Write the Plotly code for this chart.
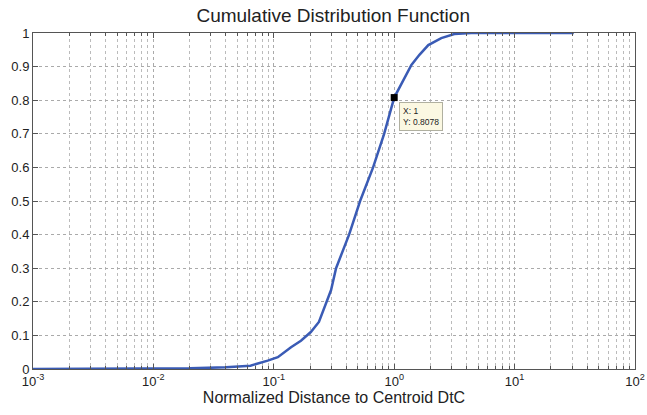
import plotly.graph_objects as go

dtc = [0.001, 0.01, 0.02, 0.04, 0.064, 0.089, 0.108, 0.139, 0.168, 0.203, 0.237,
       0.299, 0.329, 0.422, 0.521, 0.668, 0.825, 1.0, 1.14, 1.39, 1.62, 1.92,
       2.46, 3.16, 4.38, 31.0]
cdf = [0.0, 0.0, 0.002, 0.005, 0.01, 0.025, 0.035, 0.065, 0.084, 0.11, 0.14,
       0.235, 0.3, 0.4, 0.5, 0.6, 0.7, 0.8078, 0.846, 0.905, 0.935, 0.964,
       0.985, 0.997, 1.0, 1.0]
tip_x = 1
tip_y = 0.8078
x_tickvals = [0.001, 0.01, 0.1, 1, 10, 100]
x_ticktext = ["10<sup>-3</sup>", "10<sup>-2</sup>", "10<sup>-1</sup>",
              "10<sup>0</sup>", "10<sup>1</sup>", "10<sup>2</sup>"]

FONT = "Liberation Sans, Arial"

fig = go.Figure()
fig.add_trace(go.Scatter(x=dtc, y=cdf, mode="lines",
                         line=dict(color="#3a5bb5", width=2.5), hoverinfo="skip"))
fig.add_trace(go.Scatter(x=[tip_x], y=[tip_y], mode="markers",
                         marker=dict(symbol="square", size=7, color="black"),
                         hoverinfo="skip"))

fig.add_annotation(x=0, y=tip_y, xref="x", yref="y",
                   text=f"X: {tip_x}<br>Y: {tip_y}", showarrow=False,
                   xanchor="left", yanchor="top", xshift=5, yshift=-4,
                   align="left", bgcolor="#fbf8e2", bordercolor="#b0b0a0",
                   borderwidth=1, borderpad=3,
                   font=dict(size=8.5, color="#222", family=FONT))

axis_common = dict(showline=True, linecolor="#555", linewidth=1, mirror="ticks",
                   ticks="inside", ticklen=5, tickcolor="#555",
                   showgrid=True, gridcolor="#aaa", griddash="dot", gridwidth=1,
                   zeroline=False, automargin=False,
                   tickfont=dict(size=13, color="#222", family=FONT))

fig.update_xaxes(type="log", range=[-3, 2], tickmode="array",
                 tickvals=x_tickvals, ticktext=x_ticktext,
                 minor=dict(dtick="D1", ticks="inside", ticklen=3, tickcolor="#555",
                            showgrid=True, gridcolor="#bbb", griddash="dot"),
                 title=dict(text="Normalized Distance to Centroid DtC", standoff=2,
                            font=dict(size=16, color="#222", family=FONT)),
                 **axis_common)
fig.update_yaxes(range=[0, 1], dtick=0.1, tickformat="~g", **axis_common)

fig.update_layout(width=647, height=415, showlegend=False,
                  margin=dict(l=33, r=12, t=33, b=46),
                  plot_bgcolor="white", paper_bgcolor="white",
                  title=dict(text="Cumulative Distribution Function", x=0.515, xanchor="center",
                             y=1 - 15 / 415, yanchor="middle", yref="container",
                             font=dict(size=19, color="#222", family=FONT)))

fig.write_html("out.html", config={"displayModeBar": False},
               post_script="document.body.style.margin='0';"
                           "document.body.style.overflow='hidden';")
